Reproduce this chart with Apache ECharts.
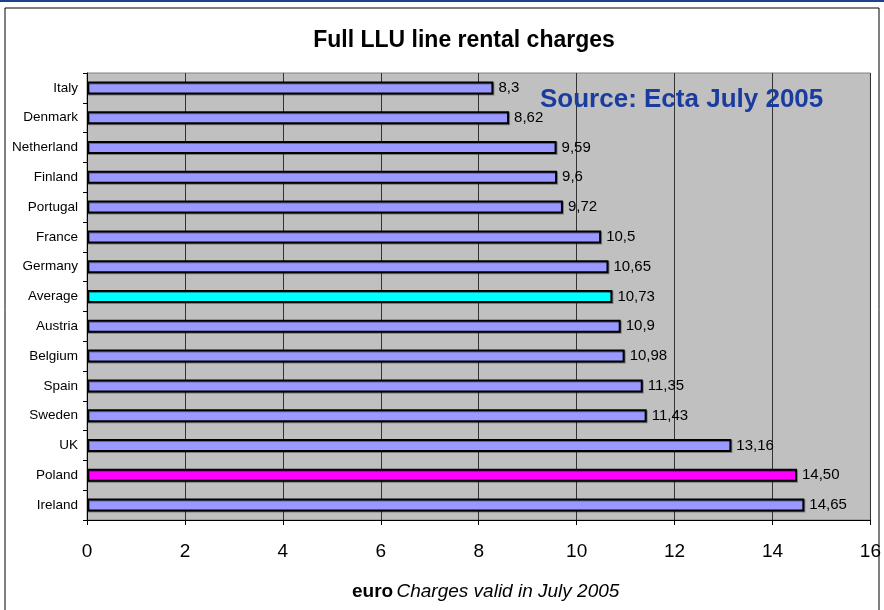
<!DOCTYPE html>
<html>
<head>
<meta charset="utf-8">
<script src="https://cdn.jsdelivr.net/npm/echarts@6/dist/echarts.min.js"></script>
<style>
  html, body { margin: 0; padding: 0; background: #fff; }
  #chart { width: 884px; height: 610px; }
</style>
</head>
<body>
<div id="chart"></div>
<script>
// 国家（从上到下）
const countries = ["Italy", "Denmark", "Netherland", "Finland", "Portugal", "France", "Germany",
  "Average", "Austria", "Belgium", "Spain", "Sweden", "UK", "Poland", "Ireland"];
// 月租费用 (euro)
const charges = [8.3, 8.62, 9.59, 9.6, 9.72, 10.5, 10.65, 10.73, 10.9, 10.98, 11.35, 11.43, 13.16, 14.5, 14.65];
// 标签文字（原图用逗号作小数点）
const chargeLabels = ["8,3", "8,62", "9,59", "9,6", "9,72", "10,5", "10,65", "10,73", "10,9",
  "10,98", "11,35", "11,43", "13,16", "14,50", "14,65"];
const xTicks = [0, 2, 4, 6, 8, 10, 12, 14, 16];

const colorFor = (name) => {
  if (name === "Average") return "#00ffff";
  if (name === "Poland") return "#ff00ff";
  return "#9999ff";
};

const chart = echarts.init(document.getElementById("chart"));

const option = {
  backgroundColor: "#ffffff",
  animation: false,
  title: {
    text: "Full LLU line rental charges",
    left: 459,
    top: 24,
    textAlign: "center",
    textStyle: {
      fontFamily: "Liberation Sans",
      fontSize: 23,
      fontWeight: "bold",
      color: "#000",
    },
  },
  grid: {
    left: 87,
    right: 13,
    top: 73,
    bottom: 90,
    show: true,
    backgroundColor: "#c0c0c0",
    borderColor: "#808080",
    borderWidth: 1,
  },
  xAxis: {
    type: "value",
    min: 0,
    max: 16,
    interval: 2,
    axisLine: { show: true, lineStyle: { color: "#000", width: 1 } },
    axisTick: { show: true, length: 5, lineStyle: { color: "#000" } },
    axisLabel: {
      fontFamily: "Liberation Sans",
      fontSize: 19,
      color: "#000",
      margin: 22,
      formatter: (v) => (xTicks.includes(v) ? String(v) : ""),
    },
    splitLine: { show: true, lineStyle: { color: "#333", width: 1 } },
  },
  yAxis: {
    type: "category",
    data: countries,
    inverse: true,
    axisLine: { show: true, lineStyle: { color: "#000", width: 1 } },
    axisTick: { show: true, length: 4, lineStyle: { color: "#000" } },
    axisLabel: {
      fontFamily: "Liberation Sans",
      fontSize: 13.5,
      color: "#000",
      margin: 9,
    },
    splitLine: { show: false },
  },
  series: [
    {
      type: "bar",
      barWidth: 13,
      data: charges.map((v, i) => ({
        value: v,
        itemStyle: { color: colorFor(countries[i]) },
        label: { formatter: chargeLabels[i] },
      })),
      itemStyle: {
        borderColor: "#000",
        borderWidth: 2,
        shadowColor: "rgba(0,0,0,0.35)",
        shadowOffsetX: 1,
        shadowOffsetY: 1,
      },
      label: {
        show: true,
        position: "right",
        distance: 5,
        fontFamily: "Liberation Sans",
        fontSize: 15,
        color: "#000",
      },
    },
  ],
  graphic: [
    {
      type: "line",
      shape: { x1: 0, y1: 1, x2: 884, y2: 1 },
      style: { stroke: "#1f3f8f", lineWidth: 2 },
    },
    {
      type: "rect",
      shape: { x: 5, y: 8, width: 874, height: 610 },
      style: { fill: "none", stroke: "#000", lineWidth: 1 },
    },
    {
      type: "text",
      left: 540,
      top: 87,
      style: {
        text: "Source: Ecta July 2005",
        fontFamily: "Liberation Sans",
        fontSize: 26,
        fontWeight: "bold",
        fill: "#1a3c9e",
      },
      z: 100,
    },
    {
      type: "text",
      left: 352,
      top: 582,
      style: {
        text: "{b|euro} {i|Charges valid in July 2005}",
        rich: {
          b: { fontFamily: "Liberation Sans", fontSize: 19, fontWeight: "bold", fill: "#000" },
          i: { fontFamily: "Liberation Sans", fontSize: 19, fontStyle: "italic", fill: "#000" },
        },
      },
    },
  ],
};

chart.setOption(option);
</script>
</body>
</html>
